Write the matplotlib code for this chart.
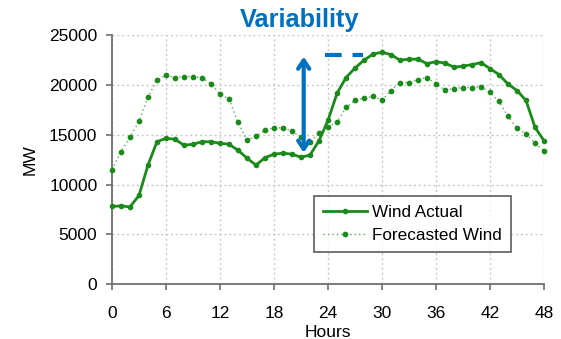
import matplotlib
matplotlib.use("Agg")
import matplotlib.pyplot as plt

plt.rcParams['font.family'] = ['Liberation Sans', 'DejaVu Sans']

hours = list(range(49))
wind_actual = [7800, 7850, 7750, 8900, 11950, 14300, 14650, 14550, 13950, 14050,
               14300, 14300, 14150, 14050, 13450, 12650, 11950, 12700, 13050, 13150,
               13050, 12750, 12950, 14400, 16450, 19150, 20750, 21700, 22500, 23100,
               23300, 23050, 22500, 22600, 22600, 22150, 22350, 22200, 21800, 21900,
               22050, 22250, 21650, 21050, 20100, 19450, 18450, 15750, 14400]
forecast_wind = [11500, 13300, 14750, 16350, 18800, 20500, 21000, 20750, 20850, 20850,
                 20750, 20150, 19050, 18600, 16250, 14450, 14900, 15450, 15700, 15700,
                 15350, 14750, 14300, 15150, 15800, 16250, 17750, 18450, 18700, 18850,
                 18500, 19450, 20250, 20250, 20550, 20750, 20100, 19500, 19650, 19750,
                 19750, 19850, 19250, 18350, 16850, 15650, 15100, 14150, 13400]
x_ticks = [0, 6, 12, 18, 24, 30, 36, 42, 48]
y_ticks = [0, 5000, 10000, 15000, 20000, 25000]

# annotation (variability arrow)
arrow_x = 21.3
arrow_y = (13200, 22850)
dash_x = (23.7, 27.9)
dash_y = 23000

green = '#1a8a1a'
blue = '#0070C0'

fig = plt.figure(figsize=(5.61, 3.39), dpi=100)
ax = fig.add_axes([0.1996, 0.1622, 0.7701, 0.7337])

ax.plot(hours, wind_actual, color=green, lw=2, marker='o', markersize=3,
        label='Wind Actual', clip_on=False, zorder=3)
ax.plot(hours, forecast_wind, color='#5aac5a', lw=1.0, ls=(0, (1, 2.2)), marker='o',
        markersize=3.1, markerfacecolor=green, markeredgecolor=green,
        label='Forecasted Wind', clip_on=False, zorder=3)

ax.annotate('', xy=(arrow_x, arrow_y[1]), xytext=(arrow_x, arrow_y[0]),
            arrowprops=dict(arrowstyle='<->,head_length=0.6,head_width=0.4',
                            color=blue, lw=3, shrinkA=0, shrinkB=0), zorder=4)
ax.plot(dash_x, [dash_y, dash_y], color=blue, lw=3, ls=(0, (4, 2.6)), zorder=4)

ax.set_xlim(0, 48)
ax.set_ylim(0, 25000)
ax.set_xticks(x_ticks)
ax.set_yticks(y_ticks)
ax.tick_params(axis='both', labelsize=12.5, color='#707070', length=4.5, width=1.2)
ax.tick_params(axis='x', pad=11)
ax.tick_params(axis='y', pad=6)
ax.grid(True, color='#c8c8c8', ls=(0, (1.5, 2)), lw=1)
ax.set_axisbelow(True)
for s in ['top', 'right']:
    ax.spines[s].set_visible(False)
for s in ['left', 'bottom']:
    ax.spines[s].set_color('#707070')
    ax.spines[s].set_linewidth(1.3)

ax.set_xlabel('Hours', fontsize=12.5, labelpad=3)
ax.set_ylabel('MW', fontsize=12.5, labelpad=8)

leg = ax.legend(loc='lower left', bbox_to_anchor=(0.468, 0.129), borderaxespad=0,
                fontsize=12.3, frameon=True, fancybox=False, handlelength=2.6,
                handletextpad=0.3, borderpad=0.5, labelspacing=0.5)
leg.get_frame().set_edgecolor('#333333')
leg.get_frame().set_linewidth(1.2)

fig.text(300 / 561, 1 - 27 / 339, 'Variability', color=blue, fontsize=18.3,
         fontweight='bold', ha='center', va='baseline')

fig.savefig('out.png', dpi=100)
